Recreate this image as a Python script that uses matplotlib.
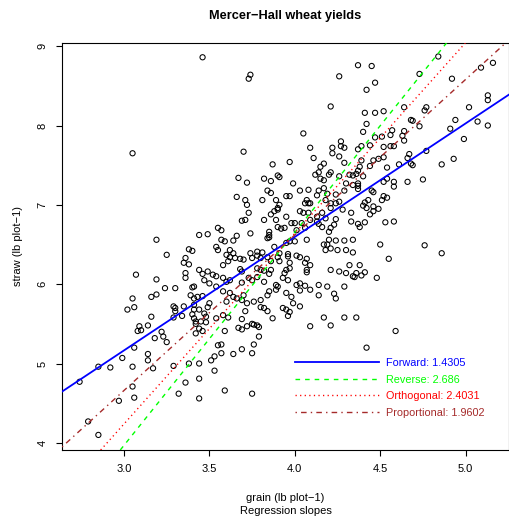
import numpy as np
import matplotlib
matplotlib.use("Agg")
import matplotlib.pyplot as plt
from matplotlib.lines import Line2D

plt.rcParams["font.family"] = ["Liberation Sans", "DejaVu Sans"]

# Mercer-Hall plots (grain, straw in lb/plot)
grain = [
    3.05,
    3.46, 3.74, 3.73, 4.26, 4.21, 4.05, 3.70, 4.09, 4.27, 4.27, 4.22, 4.29,
    4.22, 4.26, 4.11, 3.97, 3.87, 4.17, 4.15, 4.14, 4.12, 4.21, 4.29, 4.32,
    4.37, 4.45, 4.47, 4.42, 4.84, 4.73, 4.92, 5.09, 5.16, 5.13, 5.13, 4.64,
    4.41, 4.47, 4.52, 4.77, 4.76, 5.02, 4.42, 4.68, 4.69, 4.73, 4.94, 4.91,
    5.07, 5.13, 4.40, 4.57, 4.56, 4.64, 4.63, 4.64, 4.47, 4.51, 4.99, 4.37,
    4.39, 4.44, 4.52, 4.56, 4.58, 4.77, 4.67, 4.66, 4.68, 4.69, 4.52, 4.49,
    4.46, 4.39, 4.38, 4.37, 4.36, 4.44, 4.54, 4.61, 4.86, 4.93,
    4.40, 4.37, 4.37, 4.37, 4.52, 4.54, 4.58, 4.58, 4.66, 4.75, 4.45, 4.46,
    4.52, 4.54, 4.51, 4.43, 4.41, 4.40, 4.42, 4.46, 4.49, 4.46, 4.44, 4.37,
    4.38, 4.41, 4.53, 4.58, 4.50, 4.76, 4.86, 4.55, 4.38, 4.36, 4.41, 4.39,
    4.35, 4.48, 4.36, 4.42, 4.59,
    3.19, 3.25, 3.38, 3.40, 3.36, 3.35, 3.38, 3.07, 3.19, 3.36, 3.36, 3.24,
    3.30, 3.40, 3.41, 3.16, 3.19, 3.05, 3.39, 3.41,
    3.02, 3.06, 3.29, 3.30, 3.35, 3.41, 3.30, 3.29, 3.34, 3.40, 3.41, 3.16,
    3.09, 3.08, 3.10, 3.14, 3.22, 3.18, 3.23, 3.25, 3.06, 2.99, 3.14, 3.14,
    3.05, 3.17, 3.29, 3.38, 2.92, 2.85, 2.74, 3.05, 3.06, 2.97, 3.36, 3.32,
    2.79, 2.85,
    3.44, 3.49, 3.47, 3.48, 3.41, 3.42, 3.42, 3.45, 3.48, 3.44, 3.46, 3.42,
    3.54, 3.58, 3.61, 3.59, 3.55, 3.57, 3.57, 3.53, 3.51, 3.64, 3.69, 3.75,
    3.76, 3.79, 3.71, 3.69, 3.67, 3.69, 3.72, 3.75, 3.76, 3.78, 3.79, 3.80,
    3.82, 3.84, 3.87, 3.93, 3.95, 3.97, 3.96, 4.03, 4.17, 4.29, 4.21, 4.09,
    3.44, 3.53, 3.44, 3.59, 3.75, 3.44,
    3.67, 3.72, 3.82, 3.90, 3.91, 3.86, 4.15, 4.17, 4.20, 4.26, 4.34, 3.99,
    4.03, 4.08, 4.30, 4.34, 4.17, 4.14, 3.66, 3.97, 3.95, 3.84, 3.86, 3.89,
    4.19, 4.24, 4.29, 4.13, 3.71, 3.72, 3.81, 3.90, 3.91, 4.07, 4.08, 4.06,
    4.09, 4.18, 4.21, 4.24, 4.26, 3.69, 3.71, 3.73, 3.88, 3.90, 3.86, 4.03,
    4.05, 4.08, 4.21, 4.28, 4.33, 4.13, 4.16, 3.82, 3.89, 3.95, 3.98, 4.00,
    4.04, 4.09, 4.13, 4.18, 4.24, 4.33, 3.55, 3.57, 3.74, 3.85, 3.90, 3.92,
    3.94, 4.01, 4.06, 4.14, 4.16, 4.21, 4.23, 4.20, 3.44, 3.49, 3.57, 3.59,
    3.64, 3.66, 3.85, 3.84, 3.85, 3.95, 3.97, 4.00, 4.07, 4.20, 4.24, 4.29,
    4.34, 3.54, 3.55, 3.62, 3.64, 3.74, 3.78, 3.81, 3.84, 3.88, 3.91, 3.96,
    3.96, 4.01, 4.03, 4.18, 4.19, 4.21, 4.25, 4.34, 4.30, 4.17, 3.60, 3.62,
    3.65, 3.61, 3.68, 3.70, 3.75, 3.78, 3.80, 3.86, 3.90, 3.91, 3.97, 4.06,
    4.07, 4.09, 3.44, 3.46, 3.49, 3.52, 3.54, 3.58, 3.68, 3.69, 3.78, 3.80,
    3.82, 3.86, 3.85, 3.95, 3.97, 3.94, 4.07, 4.07, 4.21, 4.26, 4.30, 4.32,
    4.34, 3.47, 3.50, 3.54, 3.58, 3.60, 3.62, 3.69, 3.73, 3.75, 3.78, 3.82,
    3.89, 3.90, 3.93, 3.96, 4.01, 4.03, 4.06, 4.14, 4.19, 4.29, 3.43, 3.46,
    3.50, 3.58, 3.62, 3.64, 3.66, 3.70, 3.60, 3.69, 3.72, 3.76, 3.80, 3.84,
    3.85, 3.89, 3.95, 3.98, 4.03, 4.09, 4.14, 4.23, 4.24, 3.99,
]
straw = [
    7.65,
    8.86, 8.64, 8.59, 8.62, 8.24, 7.90, 7.67, 7.72, 7.80, 7.74, 7.72, 7.72,
    7.65, 7.61, 7.59, 7.54, 7.51, 7.52, 7.48, 7.41, 7.38, 7.41, 7.53, 7.38,
    8.76, 8.75, 8.54, 8.45, 8.87, 8.65, 8.59, 8.73, 8.79, 8.38, 8.32, 8.23,
    8.16, 8.16, 8.18, 8.23, 8.19, 8.23, 8.02, 8.07, 8.06, 7.99, 8.07, 7.96,
    8.05, 8.00, 7.92, 7.94, 7.88, 7.93, 7.87, 7.81, 7.85, 7.86, 7.83, 7.70,
    7.74, 7.75, 7.73, 7.74, 7.74, 7.68, 7.64, 7.59, 7.52, 7.50, 7.60, 7.58,
    7.56, 7.56, 7.48, 7.43, 7.39, 7.49, 7.47, 7.51, 7.51, 7.58,
    7.36, 7.27, 7.24, 7.20, 7.29, 7.33, 7.29, 7.23, 7.29, 7.32, 7.18, 7.16,
    7.11, 7.09, 7.06, 7.06, 7.03, 6.99, 6.96, 6.98, 6.95, 6.92, 6.88, 6.76,
    6.72, 6.78, 6.78, 6.79, 6.50, 6.49, 6.39, 6.32, 6.24, 6.14, 6.15, 6.11,
    6.09, 6.08, 5.58, 5.20, 5.41,
    6.56, 6.37, 6.44, 6.42, 6.33, 6.27, 6.25, 6.12, 6.06, 6.14, 6.08, 5.95,
    5.95, 5.96, 5.97, 5.84, 5.87, 5.82, 5.86, 5.82,
    5.68, 5.71, 5.72, 5.70, 5.72, 5.74, 5.66, 5.58, 5.60, 5.62, 5.68, 5.59,
    5.47, 5.41, 5.42, 5.48, 5.40, 5.32, 5.34, 5.27, 5.20, 5.07, 5.12, 5.04,
    4.96, 4.94, 4.97, 5.00, 4.95, 4.96, 4.77, 4.71, 4.57, 4.53, 4.76, 4.62,
    4.27, 4.10,
    5.68, 5.71, 5.63, 5.59, 5.57, 5.53, 5.50, 5.53, 5.52, 5.44, 5.41, 5.38,
    5.57, 5.61, 5.58, 5.41, 5.23, 5.24, 5.13, 5.09, 5.04, 5.12, 5.18, 5.13,
    5.24, 5.34, 5.66, 5.56, 5.45, 5.43, 5.47, 5.50, 5.49, 5.48, 5.46, 5.71,
    5.70, 5.66, 5.57, 5.70, 5.68, 5.65, 5.60, 5.72, 5.58, 5.58, 5.48, 5.47,
    5.00, 4.91, 4.81, 4.66, 4.62, 4.56,
    7.34, 7.28, 7.33, 7.37, 7.35, 7.30, 7.33, 7.31, 7.38, 7.36, 7.37, 7.27,
    7.18, 7.19, 7.27, 7.25, 7.21, 7.18, 7.10, 7.11, 7.11, 7.18, 7.15, 7.06,
    7.14, 7.13, 7.18, 7.12, 7.06, 7.00, 7.06, 6.96, 7.00, 7.06, 7.02, 7.02,
    7.02, 7.06, 7.02, 7.02, 7.04, 6.80, 6.81, 6.90, 6.92, 6.94, 6.88, 6.92,
    6.90, 6.90, 6.96, 6.94, 6.90, 6.85, 6.90, 6.81, 6.81, 6.85, 6.77, 6.77,
    6.77, 6.81, 6.79, 6.83, 6.82, 6.79, 6.71, 6.68, 6.64, 6.66, 6.72, 6.70,
    6.71, 6.68, 6.71, 6.76, 6.72, 6.71, 6.75, 6.66, 6.62, 6.63, 6.56, 6.54,
    6.55, 6.61, 6.62, 6.58, 6.59, 6.52, 6.54, 6.54, 6.56, 6.56, 6.55, 6.55,
    6.56, 6.47, 6.43, 6.43, 6.39, 6.39, 6.41, 6.40, 6.34, 6.47, 6.39, 6.38,
    6.35, 6.36, 6.34, 6.43, 6.50, 6.45, 6.43, 6.40, 6.43, 6.50, 6.37, 6.34,
    6.33, 6.29, 6.32, 6.31, 6.33, 6.36, 6.33, 6.29, 6.34, 6.29, 6.27, 6.27,
    6.32, 6.24, 6.18, 6.13, 6.16, 6.12, 6.10, 6.24, 6.19, 6.16, 6.20, 6.18,
    6.17, 6.18, 6.13, 6.18, 6.20, 6.14, 6.18, 6.15, 6.18, 6.16, 6.14, 6.24,
    6.10, 6.05, 6.01, 5.97, 6.08, 6.03, 6.05, 6.02, 6.08, 6.05, 6.09, 6.03,
    5.99, 5.97, 6.08, 6.05, 5.99, 6.01, 5.98, 5.99, 5.97, 5.97, 5.84, 5.85,
    5.76, 5.91, 5.89, 5.84, 5.82, 5.86, 5.78, 5.80, 5.76, 5.78, 5.80, 5.86,
    5.91, 5.93, 5.89, 5.84, 5.92, 5.93, 5.86, 5.88, 5.82, 5.76,
]

fits = ["Forward", "Reverse", "Orthogonal", "Proportional"]
slopes = [1.4305, 2.686, 2.4031, 1.9602]
colours = ["#0000FF", "#00FF00", "#FF0000", "#A52A2A"]
styles = ["-", (0, (3.3, 3.6)), (0, (0.9, 2.4)), (0, (1.0, 3.0, 4.0, 3.0))]
widths = [1.3, 1.0, 1.0, 1.0]

grain = np.array(grain)
straw = np.array(straw)
centre = (grain.mean(), straw.mean())

fig = plt.figure(figsize=(5.1, 5.16), dpi=100)
ax = fig.add_axes([62 / 510, 66 / 516, 447 / 510, 407 / 516])

ax.scatter(grain, straw, s=14, facecolors="none", edgecolors="black",
           linewidths=0.75, zorder=2)

handles = []
for name, b, col, ls, lw in zip(fits, slopes, colours, styles, widths):
    ax.axline(centre, slope=b, color=col, linestyle=ls, linewidth=lw, zorder=3)
    handles.append(Line2D([], [], color=col, linestyle=ls, linewidth=lw))

ax.set_xlim(2.637, 5.254)
ax.set_ylim(3.91, 9.04)
ax.set_xticks([3.0, 3.5, 4.0, 4.5, 5.0])
ax.set_xticklabels(["3.0", "3.5", "4.0", "4.5", "5.0"])
ax.set_yticks([4, 5, 6, 7, 8, 9])
ax.tick_params(direction="out", length=4.3, width=0.8, labelsize=8)
ax.tick_params(axis="x", pad=6)
ax.tick_params(axis="y", pad=6, labelrotation=90)
for lbl in ax.get_yticklabels():
    lbl.set_va("center")
for sp in ax.spines.values():
    sp.set_linewidth(0.8)

labels = [f"{n}: {b}" for n, b in zip(fits, slopes)]
leg = ax.legend(handles, labels, loc="upper left", bbox_to_anchor=(0.521, 0.226),
                frameon=False, fontsize=7.8, handlelength=7.8,
                handletextpad=0.65, labelspacing=0.6, borderpad=0,
                borderaxespad=0)
for txt, col in zip(leg.get_texts(), colours):
    txt.set_color(col)

fig.text(285.5 / 510, 1 - 15.7 / 516, "Mercer\u2212Hall wheat yields",
         ha="center", va="center", fontsize=9.2, fontweight="bold")
fig.text(285.5 / 510, 1 - 498 / 516, "grain (lb plot\u22121)",
         ha="center", va="center", fontsize=8)
fig.text(285.5 / 510, 1 - 510.7 / 516, "Regression slopes",
         ha="center", va="center", fontsize=8)
fig.text(18 / 510, 1 - 246.5 / 516, "straw (lb plot\u22121)",
         ha="center", va="center", fontsize=8, rotation=90)

fig.savefig("out.png", dpi=100)
